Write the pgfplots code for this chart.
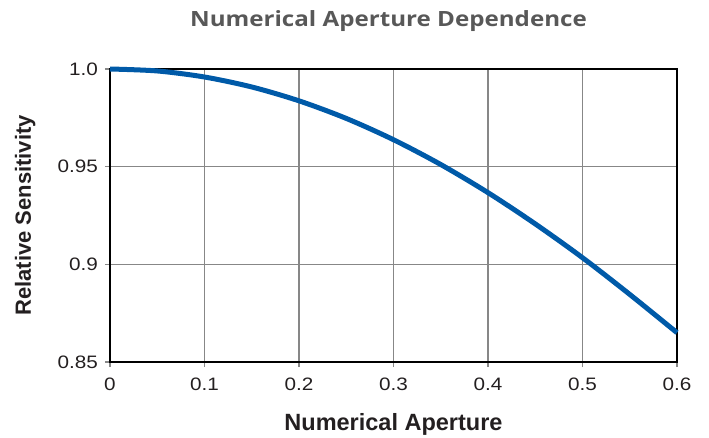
\documentclass[border=0pt]{standalone}
\usepackage{fontspec}
\setmainfont{Liberation Sans}
\newfontfamily\titlefont{Open Sans}
\usepackage{pgfplots}
\pgfplotsset{compat=1.18}
\definecolor{curve}{RGB}{0,90,168}
\definecolor{gridgray}{RGB}{135,135,135}
\definecolor{titlegray}{RGB}{88,88,88}
\definecolor{txt}{RGB}{35,31,32}
\pgfplotstableread{
x y
0.00 1.0000
0.05 0.9990
0.10 0.9959
0.15 0.9908
0.20 0.9837
0.25 0.9747
0.30 0.9638
0.35 0.9511
0.40 0.9367
0.45 0.9207
0.50 0.9034
0.55 0.8846
0.60 0.8650
}\datatable
\begin{document}
\begin{tikzpicture}
\begin{axis}[
  scale only axis, width=567bp, height=293bp,
  xmin=0, xmax=0.6, ymin=0.85, ymax=1.0,
  xtick={0,0.1,0.2,0.3,0.4,0.5,0.6},
  xticklabels={0,0.1,0.2,0.3,0.4,0.5,0.6},
  ytick={0.85,0.9,0.95,1.0},
  yticklabels={0.85,0.9,0.95,1.0},
  grid=major,
  major grid style={gridgray, line width=1.2bp},
  axis line style={black, line width=1.6bp},
  tick align=outside, tick pos=left,
  major tick length=5bp,
  every tick/.style={gridgray, line width=1.2bp},
  xticklabel style={font=\fontsize{18bp}{20bp}\selectfont, text=txt, xscale=1.15, anchor=north, inner sep=0pt, yshift=-11bp},
  yticklabel style={font=\fontsize{18bp}{20bp}\selectfont, text=txt, xscale=1.15, anchor=east, inner sep=0pt, xshift=-6bp},
  xlabel={Numerical Aperture},
  ylabel={Relative Sensitivity},
  xlabel style={font=\bfseries\fontsize{23.5bp}{26bp}\selectfont, text=txt, at={(rel axis cs:0.5,0)}, anchor=base, yshift=-68.7bp, inner sep=0pt},
  ylabel style={font=\bfseries\fontsize{22bp}{24bp}\selectfont, text=txt, at={([xshift=-79bp]rel axis cs:0,0.5)}, anchor=base, rotate=0, inner sep=0pt},
  clip=false,
]
\addplot[curve, line width=5bp, line cap=butt, smooth] table[x=x,y=y] {\datatable};
\node[anchor=base, inner sep=0pt, xscale=1.15, font=\titlefont\bfseries\fontsize{21bp}{24bp}\selectfont, text=titlegray] at ([yshift=42.3bp, xshift=-5bp]rel axis cs:0.5,1) {Numerical Aperture Dependence};
\end{axis}
\pgfresetboundingbox
\path[use as bounding box] ([shift={(-110bp,-75bp)}]current axis.south west) rectangle ([shift={(32bp,69bp)}]current axis.north east);
\end{tikzpicture}
\end{document}
